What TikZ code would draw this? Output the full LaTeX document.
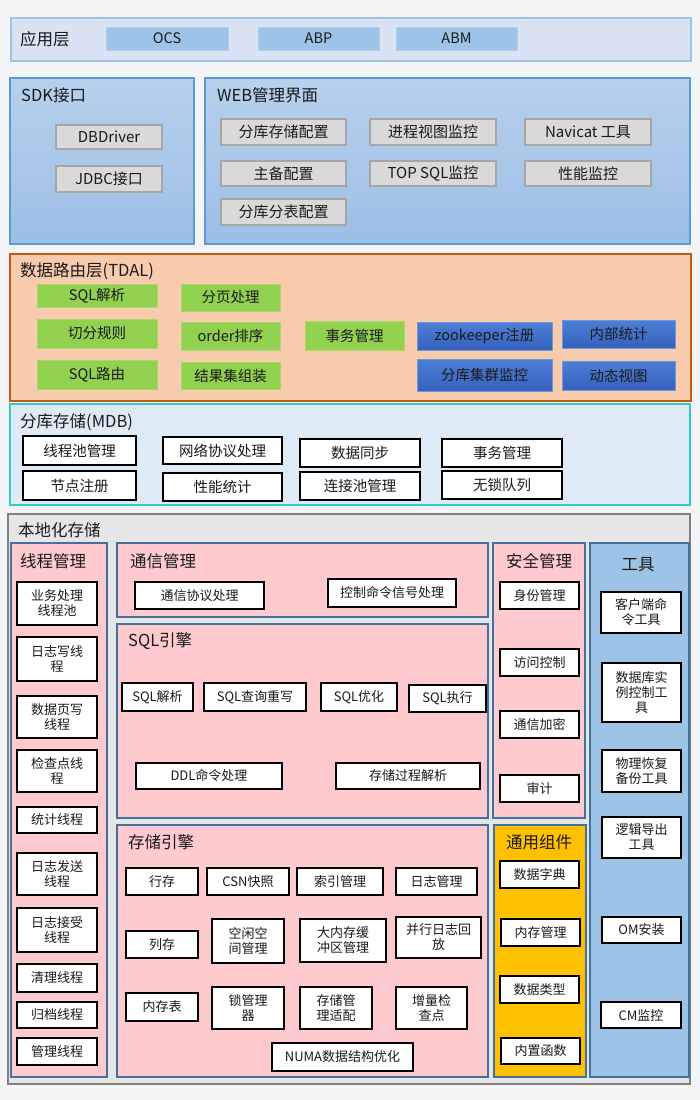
\documentclass[tikz,border=0pt]{standalone}
\usepackage{fontspec}
\setmainfont{Noto Sans CJK SC}
\definecolor{bgC}{HTML}{F4F5F7}
\definecolor{appF}{HTML}{DAE3F3}
\definecolor{appB}{HTML}{9DC3E6}
\definecolor{appBox}{HTML}{9DC3E6}
\definecolor{sdkT}{HTML}{B7D0EC}
\definecolor{sdkBot}{HTML}{9CBFE6}
\definecolor{sdkB}{HTML}{5B9BD5}
\definecolor{grayF}{HTML}{D9D9D9}
\definecolor{grayB}{HTML}{A6A6A6}
\definecolor{tdalF}{HTML}{F8CBAD}
\definecolor{tdalB}{HTML}{C55A11}
\definecolor{greenF}{HTML}{92D050}
\definecolor{greenB}{HTML}{A9D870}
\definecolor{blueT}{HTML}{4D7FD6}
\definecolor{blueBot}{HTML}{3560BC}
\definecolor{blueB}{HTML}{6A98DE}
\definecolor{mdbF}{HTML}{DEEBF7}
\definecolor{mdbB}{HTML}{33CCCC}
\definecolor{locF}{HTML}{E7E6E6}
\definecolor{locB}{HTML}{808080}
\definecolor{pinkF}{HTML}{FFCACD}
\definecolor{steelB}{HTML}{41719C}
\definecolor{yelF}{HTML}{FFC000}
\definecolor{toolF}{HTML}{9DC3E6}
\definecolor{txt}{HTML}{1A1A1A}
\newcommand\bx[7]{\node[#1, minimum width={(#5-#3)*1pt}, minimum height={(#6-#4)*1pt}] (#2) at ({(#3+#5)/2},{(#4+#6)/2}) {#7};}
\tikzset{
  cont/.style={draw, line width=1.5pt, inner sep=0pt, outer sep=0pt},
  ttl/.style={anchor=west, inner sep=0pt, text=txt, font=\fontsize{16.5}{18}\selectfont},
  cttl/.style={inner sep=0pt, text=txt, font=\fontsize{16.5}{18}\selectfont},
  appbox/.style={fill=appBox, draw=appBox!80!white, line width=0.6pt, inner sep=0pt, text=txt, font=\fontsize{14.5}{16}\selectfont},
  graybox/.style={fill=grayF, draw=grayB, line width=1.6pt, inner sep=0pt, text=txt, font=\fontsize{15}{17}\selectfont},
  greenbox/.style={fill=greenF, draw=greenB, line width=0.8pt, inner sep=0pt, text=txt, font=\fontsize{14.5}{16}\selectfont},
  bluebox/.style={top color=blueT, bottom color=blueBot, draw=blueB, line width=1pt, inner sep=0pt, text=txt, font=\fontsize{14.5}{16}\selectfont},
  mbox/.style={fill=white, draw=black, line width=1.8pt, inner sep=0pt, text=txt, font=\fontsize{14.5}{16}\selectfont},
  wbox/.style={fill=white, draw=black, line width=1.6pt, inner sep=0pt, align=center, text=txt, font=\fontsize{13}{15}\selectfont},
}
\begin{document}
\begin{tikzpicture}[x=1pt, y=-1pt]
\fill[bgC] (0,0) rectangle (700,1100);
\useasboundingbox (0,0) rectangle (700,1100);

% application layer
\bx{cont, fill=appF, draw=appB}{app}{11}{18}{691}{61}{}
\node[ttl] (tapp) at (20,39.5) {应用层};
\bx{appbox}{ocs}{106}{27}{228}{50}{OCS}
\bx{appbox}{abp}{258}{27}{379}{50}{ABP}
\bx{appbox}{abm}{396}{27}{517}{50}{ABM}

% SDK
\bx{cont, top color=sdkT, bottom color=sdkBot, draw=sdkB}{sdk}{10}{78}{194}{244}{}
\node[ttl] (tsdk) at (21,95) {SDK接口};
\bx{graybox}{dbd}{56}{125}{162}{149}{DBDriver}
\bx{graybox}{jdbc}{56}{166}{162}{192}{JDBC接口}

% WEB
\bx{cont, top color=sdkT, bottom color=sdkBot, draw=sdkB}{web}{205}{78}{690}{244}{}
\node[ttl] (tweb) at (217,95) {WEB管理界面};
\bx{graybox}{w1}{221}{119}{346}{145}{分库存储配置}
\bx{graybox}{w2}{370}{119}{496}{145}{进程视图监控}
\bx{graybox}{w3}{525}{119}{651}{145}{Navicat 工具}
\bx{graybox}{w4}{221}{161}{346}{186}{主备配置}
\bx{graybox}{w5}{370}{161}{496}{186}{TOP SQL监控}
\bx{graybox}{w6}{525}{161}{651}{186}{性能监控}
\bx{graybox}{w7}{221}{199}{346}{225}{分库分表配置}

% TDAL
\bx{cont, fill=tdalF, draw=tdalB}{tdal}{10}{254}{691}{401}{}
\node[ttl] (ttdal) at (20,271) {数据路由层(TDAL)};
\bx{greenbox}{g1}{37}{284}{157}{307}{SQL解析}
\bx{greenbox}{g2}{181}{284}{280}{311}{分页处理}
\bx{greenbox}{g3}{37}{319}{157}{348}{切分规则}
\bx{greenbox}{g4}{181}{322}{280}{350}{order排序}
\bx{greenbox}{g5}{305}{321}{404}{350}{事务管理}
\bx{greenbox}{g6}{37}{360}{157}{389}{SQL路由}
\bx{greenbox}{g7}{181}{362}{280}{389}{结果集组装}
\bx{bluebox}{b1}{417}{322}{552}{350}{zookeeper注册}
\bx{bluebox}{b2}{562}{320}{675}{348}{内部统计}
\bx{bluebox}{b3}{417}{359}{552}{391}{分库集群监控}
\bx{bluebox}{b4}{562}{361}{675}{390}{动态视图}

% MDB
\bx{cont, fill=mdbF, draw=mdbB}{mdb}{10}{404}{690}{505}{}
\node[ttl] (tmdb) at (20,422) {分库存储(MDB)};
\bx{mbox}{m1}{23}{436}{136}{465}{线程池管理}
\bx{mbox}{m2}{163}{437}{282}{464}{网络协议处理}
\bx{mbox}{m3}{300}{439}{420}{467}{数据同步}
\bx{mbox}{m4}{442}{439}{562}{467}{事务管理}
\bx{mbox}{m5}{23}{471}{136}{500}{节点注册}
\bx{mbox}{m6}{163}{473}{282}{501}{性能统计}
\bx{mbox}{m7}{300}{472}{420}{500}{连接池管理}
\bx{mbox}{m8}{442}{471}{562}{499}{无锁队列}

% local storage
\bx{cont, fill=locF, draw=locB, line width=2pt}{loc}{8}{514}{690}{1084}{}
\node[ttl] (tloc) at (18,530) {本地化存储};

% thread management
\bx{cont, fill=pinkF, draw=steelB}{thr}{11}{543}{107}{1077}{}
\node[ttl] (tthr) at (20,561) {线程管理};
\bx{wbox}{t1}{17}{582}{97}{625}{业务处理\\线程池}
\bx{wbox}{t2}{17}{637}{97}{681}{日志写线\\程}
\bx{wbox}{t3}{17}{696}{97}{738}{数据页写\\线程}
\bx{wbox}{t4}{17}{750}{97}{792}{检查点线\\程}
\bx{wbox}{t5}{17}{807}{97}{833}{统计线程}
\bx{wbox}{t6}{17}{853}{97}{895}{日志发送\\线程}
\bx{wbox}{t7}{17}{908}{97}{952}{日志接受\\线程}
\bx{wbox}{t8}{17}{964}{97}{992}{清理线程}
\bx{wbox}{t9}{17}{1002}{97}{1028}{归档线程}
\bx{wbox}{t10}{17}{1038}{97}{1065}{管理线程}

% communication
\bx{cont, fill=pinkF, draw=steelB}{com}{117}{543}{488}{617}{}
\node[ttl] (tcom) at (130,561) {通信管理};
\bx{wbox}{c1}{135}{582}{264}{609}{通信协议处理}
\bx{wbox}{c2}{328}{579}{456}{607}{控制命令信号处理}

% SQL engine
\bx{cont, fill=pinkF, draw=steelB}{sqle}{117}{624}{488}{818}{}
\node[ttl] (tsql) at (128,641) {SQL引擎};
\bx{wbox}{s1}{122}{683}{193}{711}{SQL解析}
\bx{wbox}{s2}{204}{683}{306}{711}{SQL查询重写}
\bx{wbox}{s3}{321}{683}{397}{711}{SQL优化}
\bx{wbox}{s4}{409}{685}{486}{712}{SQL执行}
\bx{wbox}{s5}{136}{763}{282}{789}{DDL命令处理}
\bx{wbox}{s6}{336}{763}{480}{789}{存储过程解析}

% storage engine
\bx{cont, fill=pinkF, draw=steelB}{ste}{117}{825}{488}{1077}{}
\node[ttl] (tste) at (128,842) {存储引擎};
\bx{wbox}{e1}{126}{868}{198}{895}{行存}
\bx{wbox}{e2}{207}{868}{289}{895}{CSN快照}
\bx{wbox}{e3}{297}{868}{383}{895}{索引管理}
\bx{wbox}{e4}{396}{868}{477}{895}{日志管理}
\bx{wbox}{e5}{126}{931}{198}{958}{列存}
\bx{wbox}{e6}{212}{919}{284}{963}{空闲空\\间管理}
\bx{wbox}{e7}{300}{919}{386}{962}{大内存缓\\冲区管理}
\bx{wbox}{e8}{396}{917}{481}{958}{并行日志回\\放}
\bx{wbox}{e9}{126}{993}{198}{1021}{内存表}
\bx{wbox}{e10}{212}{987}{284}{1029}{锁管理\\器}
\bx{wbox}{e11}{300}{987}{372}{1029}{存储管\\理适配}
\bx{wbox}{e12}{396}{987}{467}{1029}{增量检\\查点}
\bx{wbox}{e13}{272}{1043}{413}{1071}{NUMA数据结构优化}

% security
\bx{cont, fill=pinkF, draw=steelB}{sec}{493}{543}{585}{818}{}
\node[cttl] (tsec) at (539,561) {安全管理};
\bx{wbox}{a1}{500}{582}{579}{609}{身份管理}
\bx{wbox}{a2}{500}{649}{579}{676}{访问控制}
\bx{wbox}{a3}{500}{711}{579}{738}{通信加密}
\bx{wbox}{a4}{500}{775}{579}{802}{审计}

% common components
\bx{cont, fill=yelF, draw=steelB}{gen}{494}{825}{586}{1077}{}
\node[cttl] (tgen) at (539,842) {通用组件};
\bx{wbox}{u1}{500}{861}{579}{888}{数据字典}
\bx{wbox}{u2}{501}{919}{580}{946}{内存管理}
\bx{wbox}{u3}{500}{976}{579}{1003}{数据类型}
\bx{wbox}{u4}{501}{1038}{580}{1064}{内置函数}

% tools
\bx{cont, fill=toolF, draw=steelB}{tool}{590}{543}{689}{1077}{}
\node[cttl] (ttool) at (638,565) {工具};
\bx{wbox}{o1}{601}{592}{681}{633}{客户端命\\令工具}
\bx{wbox}{o2}{602}{663}{681}{722}{数据库实\\例控制工\\具}
\bx{wbox}{o3}{602}{750}{681}{792}{物理恢复\\备份工具}
\bx{wbox}{o4}{602}{817}{681}{858}{逻辑导出\\工具}
\bx{wbox}{o5}{602}{917}{681}{943}{OM安装}
\bx{wbox}{o6}{601}{1002}{681}{1028}{CM监控}
\end{tikzpicture}
\end{document}
